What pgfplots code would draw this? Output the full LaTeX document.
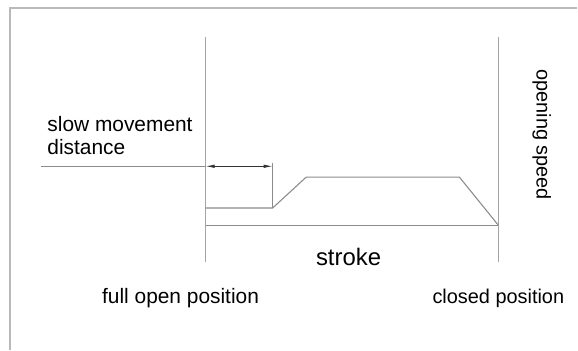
\documentclass[border=0pt]{standalone}
\usepackage{fontspec}
\setmainfont{Liberation Sans}
\usepackage{pgfplots}
\pgfplotsset{compat=1.18}
\usetikzlibrary{arrows.meta}

\definecolor{linegray}{RGB}{140,140,140}
\definecolor{vertgray}{RGB}{165,165,165}
\definecolor{framegray}{RGB}{185,185,185}
\definecolor{txt}{RGB}{40,40,40}

% coordinates are image pixels, y measured from the bottom
\begin{document}
\begin{tikzpicture}
\begin{axis}[
	width=578bp, height=350bp,
	scale only axis,
	hide axis,
	xmin=0, xmax=578,
	ymin=0, ymax=350,
	clip=false,
	gline/.style={color=linegray, solid, line width=1.1bp, mark=none},
	vline/.style={color=vertgray, solid, line width=1.4bp, mark=none},
	every node/.append style={inner sep=0pt, text=txt},
	]

	% keeps the bounding box at full size
	\addplot[draw=none] coordinates {(0,0) (578,350)};

	% outer frame (top and left)
	\addplot[framegray, line width=1.6bp] coordinates {(10,0) (10,342) (578,342)};

	% position lines
	\addplot[vline] coordinates {(206,313) (206,88)};
	\addplot[vline] coordinates {(499,313) (499,88)};

	% stroke base line
	\addplot[gline] coordinates {(206,124.5) (499,124.5)};

	% opening speed profile
	\addplot[gline] coordinates {
		(206,141.7)
		(273,141.7)
		(306.7,172.7)
		(460,172.7)
		(499,124.5)};

	% leader from label and slow movement extension line
	\addplot[gline] coordinates {(41,183.5) (206,183.5)};
	\addplot[gline] coordinates {(273,187) (273,141.7)};

	% dimension arrows
	\addplot[black!80, line width=0.8bp,
		{Latex[length=9bp,width=3.5bp]}-{Latex[length=9bp,width=3.5bp]}]
		coordinates {(206,183.5) (273,183.5)};

	% labels
	\node[anchor=base west, font=\fontsize{21}{25}\selectfont]
		at (axis cs:44,218.3) {slow movement};
	\node[anchor=base west, font=\fontsize{21}{25}\selectfont]
		at (axis cs:44,195.7) {distance};
	\node[anchor=base, font=\fontsize{24}{28}\selectfont]
		at (axis cs:349,84) {stroke};
	\node[anchor=base, font=\fontsize{21}{25}\selectfont]
		at (axis cs:180.8,45.7) {full open position};
	\node[anchor=base, font=\fontsize{20}{24}\selectfont]
		at (axis cs:499,46) {closed position};
	\node[anchor=base, rotate=-90, font=\fontsize{20}{24}\selectfont]
		at (axis cs:537.4,215) {opening speed};
\end{axis}
\end{tikzpicture}
\end{document}
